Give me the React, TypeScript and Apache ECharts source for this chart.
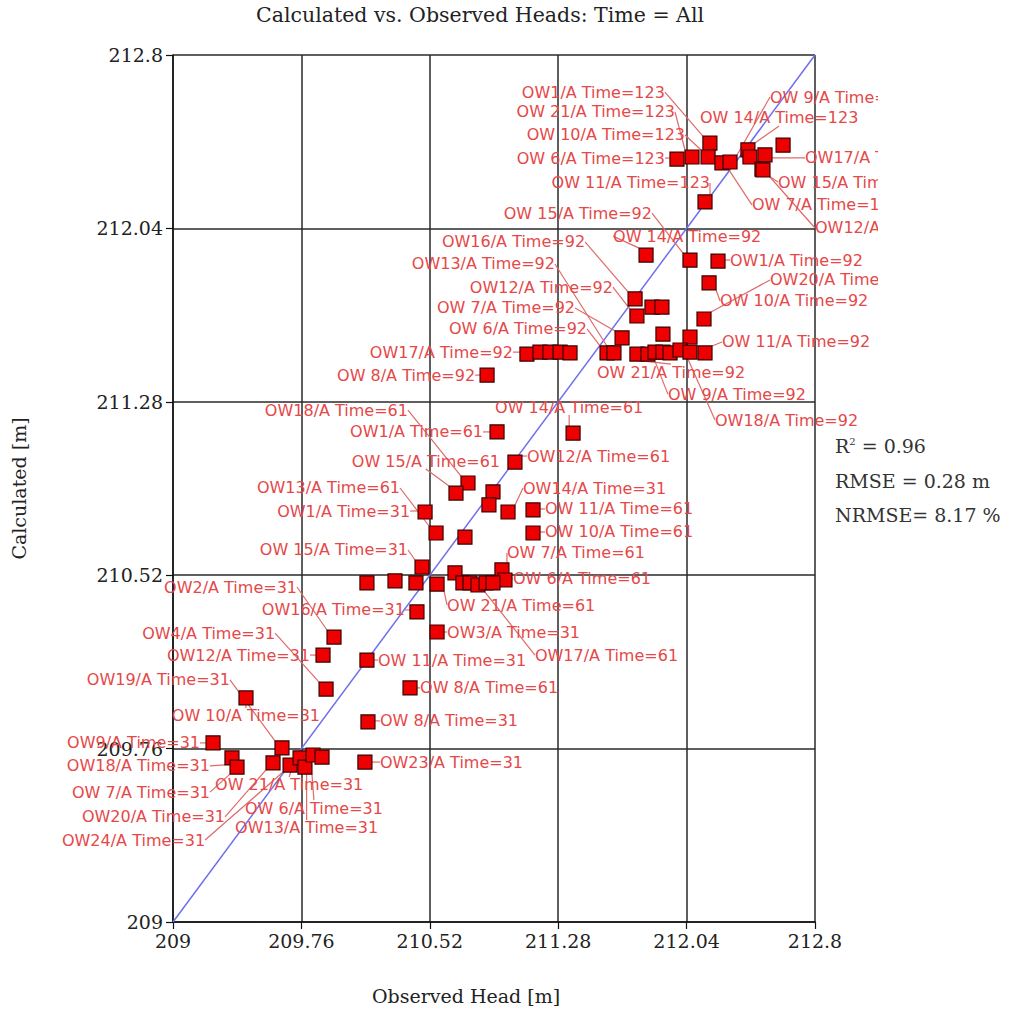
import React, { useEffect, useRef } from "react";
import * as echarts from "echarts";

// ---- Data ----
const AXIS_MIN = 209;
const AXIS_MAX = 212.8;
const AXIS_STEP = 0.76;

// Time = 123
const OBS_123 = [211.983, 212.072, 212.178, 212.167, 212.149, 212.249, 212.297, 212.403, 212.415, 212.504, 212.486, 212.492, 212.611];
const CALC_123 = [212.344, 212.353, 212.414, 212.353, 212.156, 212.327, 212.331, 212.384, 212.353, 212.362, 212.3, 212.296, 212.405];
const LBL_123 = ["OW 6/A Time=123", "OW 21/A Time=123", "OW1/A Time=123", "OW 10/A Time=123", "OW 11/A Time=123", "OW 7/A Time=123", "OW 9/A Time=123", "OW 14/A Time=123", "", "OW17/A Time=123", "OW 15/A Time=123", "OW12/A Time=123", ""];

// Time = 92
const OBS_92 = [211.8, 212.06, 212.226, 212.173, 211.735, 211.835, 211.894, 211.746, 212.143, 211.658, 211.9, 212.06, 211.095, 211.172, 211.231, 211.291, 211.35, 211.569, 211.61, 211.746, 211.811, 211.853, 211.9, 211.942, 212.001, 212.06, 212.149, 210.859];
const CALC_92 = [211.923, 211.901, 211.897, 211.801, 211.731, 211.695, 211.695, 211.656, 211.643, 211.56, 211.577, 211.564, 211.489, 211.498, 211.498, 211.498, 211.494, 211.494, 211.494, 211.489, 211.489, 211.498, 211.498, 211.494, 211.507, 211.498, 211.494, 211.397];
const LBL_92 = ["OW 14/A Time=92", "OW 15/A Time=92", "OW1/A Time=92", "OW 10/A Time=92", "OW16/A Time=92", "", "", "OW12/A Time=92", "OW20/A Time=92", "OW 7/A Time=92", "", "", "OW17/A Time=92", "", "", "", "", "OW 6/A Time=92", "OW13/A Time=92", "OW 21/A Time=92", "OW 9/A Time=92", "", "", "", "OW18/A Time=92", "", "OW 11/A Time=92", "OW 8/A Time=92"];

// Time = 61
const OBS_61 = [210.918, 211.368, 211.024, 210.746, 210.675, 210.894, 210.87, 211.131, 210.557, 210.728, 211.131, 210.947, 210.965, 210.669, 210.716, 210.758, 210.805, 210.853, 210.894, 210.563, 210.403];
const CALC_61 = [211.148, 211.143, 211.016, 210.924, 210.88, 210.885, 210.828, 210.806, 210.705, 210.687, 210.705, 210.543, 210.499, 210.53, 210.486, 210.486, 210.477, 210.486, 210.486, 210.481, 210.026];
const LBL_61 = ["OW1/A Time=61", "OW 14/A Time=61", "OW12/A Time=61", "OW18/A Time=61", "OW 15/A Time=61", "", "", "OW 11/A Time=61", "OW13/A Time=61", "", "OW 10/A Time=61", "OW 7/A Time=61", "OW 6/A Time=61", "", "", "", "OW17/A Time=61", "", "", "OW 21/A Time=61", "OW 8/A Time=61"];

// Time = 31
const OBS_31 = [210.983, 210.492, 210.474, 210.148, 210.314, 210.438, 210.444, 210.563, 210.148, 210.154, 210.136, 209.953, 209.888, 209.906, 209.432, 209.645, 209.237, 209.349, 209.379, 209.592, 209.693, 209.752, 209.781, 209.829, 209.882];
const CALC_31 = [210.797, 210.797, 210.556, 210.486, 210.495, 210.486, 210.359, 210.271, 210.148, 209.877, 209.701, 210.249, 210.17, 210.021, 209.982, 209.763, 209.785, 209.719, 209.679, 209.697, 209.688, 209.719, 209.679, 209.732, 209.723];
const LBL_31 = ["OW14/A Time=31", "OW1/A Time=31", "OW 15/A Time=31", "", "", "", "OW16/A Time=31", "OW3/A Time=31", "OW 11/A Time=31", "OW 8/A Time=31", "OW23/A Time=31", "OW2/A Time=31", "OW12/A Time=31", "OW4/A Time=31", "OW 10/A Time=31", "OW19/A Time=31", "OW9/A Time=31", "OW18/A Time=31", "OW 7/A Time=31", "OW20/A Time=31", "OW24/A Time=31", "OW 21/A Time=31", "OW 6/A Time=31", "OW13/A Time=31", ""];

const STATS = ["= 0.96", "RMSE = 0.28 m", "NRMSE= 8.17 %"];

// ---- Label placement (pixel offsets from each marker; layout, not data) ----
type Off = [number, number, "l" | "r"] | null;
const OFF_123: Off[] = [[-12, -1, "r"], [-17, -45, "r"], [-45, -51, "r"], [-23, -22, "r"], [5, -19, "r"], [30, 42, "l"], [40, -65, "l"], [-48, -32, "l"], null, [40, 3, "l"], [16, 13, "l"], [52, 58, "l"], null];
const OFF_92: Off[] = [[-33, -19, "l"], [-38, -47, "r"], [12, -1, "l"], [11, 18, "l"], [-50, -57, "r"], null, null, [-24, -29, "r"], [66, -39, "l"], [-47, -30, "r"], null, null, [-14, -2, "r"], null, null, null, null, [-20, -24, "r"], [-59, -89, "r"], [-40, 18, "l"], [20, 40, "l"], null, null, null, [35, 70, "l"], null, [17, -11, "l"], [-12, 0, "r"]];
const OFF_61: Off[] = [[-14, 0, "r"], [-78, -26, "l"], [12, -6, "l"], [-60, -73, "r"], [44, -32, "r"], null, null, [12, -1, "l"], [-36, -45, "r"], null, [12, -1, "l"], [5, -17, "l"], [8, -1, "l"], null, null, null, [57, 70, "l"], null, null, [10, 21, "l"], [10, 0, "l"]];
const OFF_31: Off[] = [[15, -24, "l"], [-15, -1, "r"], [-14, -17, "r"], null, null, null, [-12, -2, "r"], [10, 0, "l"], [11, 0, "l"], [12, -1, "l"], [15, 0, "l"], [-37, -50, "r"], [-13, 0, "r"], [-51, -56, "r"], [74, 18, "r"], [-52, -68, "r"], [-13, 0, "r"], [-22, 8, "r"], [-27, 25, "r"], [-48, 54, "r"], [-85, 75, "r"], [-85, 27, "l"], [-60, 41, "l"], [-78, 73, "l"], null];

const LABEL_COLOR = "#e54848";
const SERIF = "'DejaVu Serif', 'Liberation Serif', serif";
const SANS = "'DejaVu Sans', 'Liberation Sans', sans-serif";

const ALL_OBS = [...OBS_123, ...OBS_92, ...OBS_61, ...OBS_31];
const ALL_CALC = [...CALC_123, ...CALC_92, ...CALC_61, ...CALC_31];
const ALL_LBL = [...LBL_123, ...LBL_92, ...LBL_61, ...LBL_31];
const ALL_OFF = [...OFF_123, ...OFF_92, ...OFF_61, ...OFF_31];

const fmt = (v: number) => String(Number(v.toFixed(2)));

export default function App() {
  const ref = useRef<HTMLDivElement>(null);
  useEffect(() => {
    document.body.style.margin = "0";
    if (!ref.current) return;
    const chart = echarts.init(ref.current, null, { renderer: "svg" });

    const scatterData = ALL_OBS.map((x, i) => {
      const has = !!ALL_LBL[i];
      return {
        value: [x, ALL_CALC[i]],
        name: ALL_LBL[i],
        label: { show: has },
        labelLine: { show: has },
      };
    });

    const axisCommon = {
      type: "value" as const,
      min: AXIS_MIN,
      max: AXIS_MAX,
      interval: AXIS_STEP,
      axisLine: { show: true, onZero: false, lineStyle: { color: "#111", width: 1.5 } },
      axisTick: { show: true, length: 7, lineStyle: { color: "#111", width: 1.2 } },
      splitLine: { show: true, lineStyle: { color: "#2a2a2a", width: 1.5 } },
      axisLabel: { color: "#222", fontFamily: SERIF, fontSize: 19, formatter: fmt },
      nameLocation: "middle" as const,
    };

    chart.setOption({
      animation: false,
      backgroundColor: "#fff",
      title: {
        text: "Calculated vs. Observed Heads: Time = All",
        left: 256,
        top: 4,
        padding: 0,
        textStyle: { fontFamily: SERIF, fontSize: 20.5, fontWeight: "normal", color: "#222" },
      },
      grid: { left: 173, right: 194, top: 55, bottom: 92, containLabel: false },
      xAxis: {
        ...axisCommon,
        axisLabel: { ...axisCommon.axisLabel, margin: 9 },
        name: "Observed Head [m]",
        nameGap: 64,
        nameTextStyle: { fontFamily: SERIF, fontSize: 19, color: "#222", padding: [0, 56, 0, 0] },
      },
      yAxis: {
        ...axisCommon,
        axisLabel: { ...axisCommon.axisLabel, margin: 10 },
        name: "Calculated [m]",
        nameGap: 145,
        nameTextStyle: { fontFamily: SERIF, fontSize: 19, color: "#222" },
      },
      series: [
        {
          type: "line",
          data: [
            [AXIS_MIN, AXIS_MIN],
            [AXIS_MAX, AXIS_MAX],
          ],
          symbol: "none",
          lineStyle: { color: "#6f6fee", width: 1.5 },
          z: 1,
          silent: true,
        },
        {
          type: "scatter",
          data: scatterData,
          symbol: "rect",
          symbolSize: 14,
          itemStyle: { color: "#ee0000", borderColor: "#3a0000", borderWidth: 1.2, opacity: 1 },
          z: 3,
          label: {
            show: true,
            formatter: (p: any) => ALL_LBL[p.dataIndex],
            color: LABEL_COLOR,
            fontFamily: SANS,
            fontSize: 16,
            position: "right",
          },
          labelLine: { show: true, lineStyle: { color: "#e06a6a", width: 1.2 } },
          labelLayout: (params: any) => {
            const off = ALL_OFF[params.dataIndex];
            if (!off) return {};
            const r = params.rect;
            return {
              x: r.x + r.width / 2 + off[0],
              y: r.y + r.height / 2 + off[1],
              align: off[2] === "r" ? "right" : "left",
              verticalAlign: "middle",
            };
          },
        },
      ],
      graphic: [
        {
          type: "rect",
          z: 100,
          shape: { x: 878, y: 58, width: 131, height: 250 },
          style: { fill: "#fff" },
          silent: true,
        },
        {
          type: "text",
          z: 101,
          x: 835,
          y: 446,
          style: {
            text: "R{sup|2} " + STATS[0],
            fontFamily: SERIF,
            fontSize: 19,
            fill: "#333",
            verticalAlign: "middle",
            rich: { sup: { fontSize: 10, fontFamily: SERIF, fill: "#333", verticalAlign: "top", padding: [0, 0, 10, 0] } },
          },
        },
        {
          type: "text",
          z: 101,
          x: 835,
          y: 481,
          style: { text: STATS[1], fontFamily: SERIF, fontSize: 19, fill: "#333", verticalAlign: "middle" },
        },
        {
          type: "text",
          z: 101,
          x: 835,
          y: 515,
          style: { text: STATS[2], fontFamily: SERIF, fontSize: 19, fill: "#333", verticalAlign: "middle" },
        },
      ],
    });

    return () => chart.dispose();
  }, []);

  return <div ref={ref} style={{ width: 1009, height: 1014 }} />;
}
